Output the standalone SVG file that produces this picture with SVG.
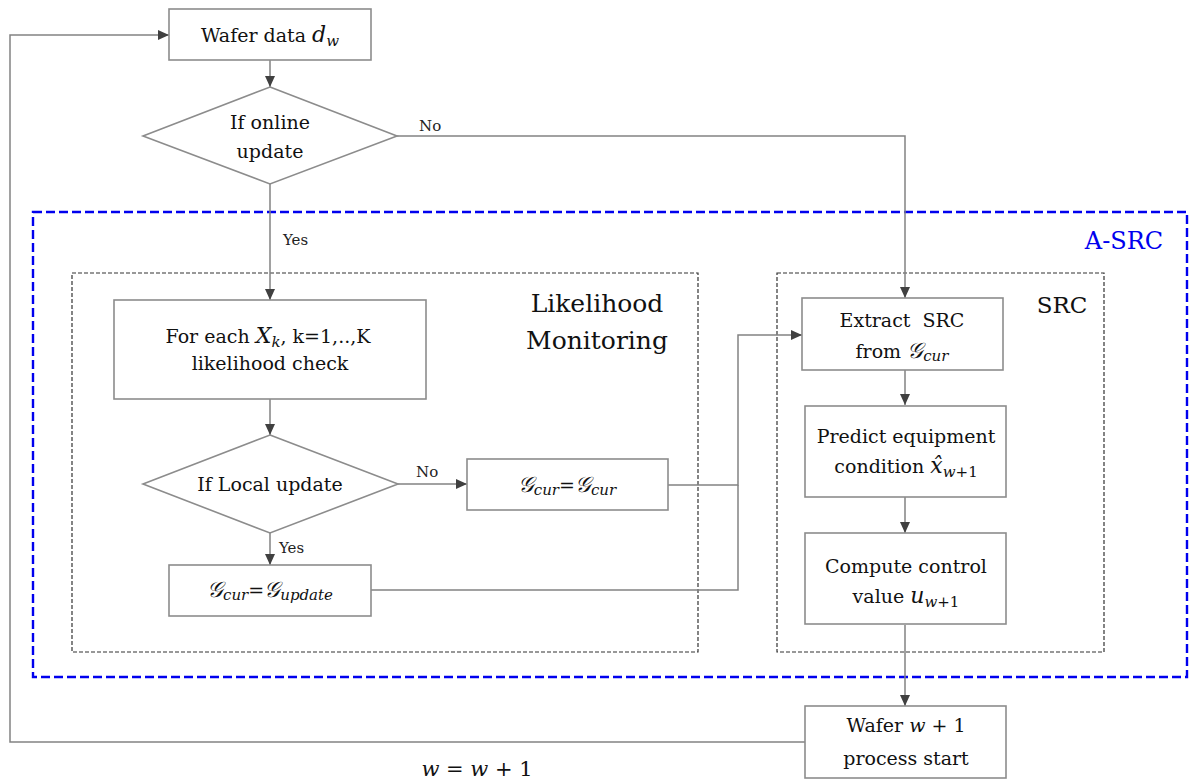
<svg xmlns="http://www.w3.org/2000/svg" width="1192" height="780" viewBox="0 0 1192 780">
<style>
.box{fill:#fff;stroke:#8c8c8c;stroke-width:1.6}
.grp{fill:none;stroke:#333;stroke-width:1.2;stroke-dasharray:4 2}
.asrc{fill:none;stroke:#0000ee;stroke-width:2.4;stroke-dasharray:9 4}
.ln{fill:none;stroke:#828282;stroke-width:1.5}
.t{font-family:"DejaVu Serif","Liberation Serif",serif;font-size:19px;fill:#111}
.m{font-style:italic;font-size:22px}
.sub{font-style:italic;font-size:15px}
.up{font-style:normal}
.lbl{font-family:"DejaVu Serif","Liberation Serif",serif;font-size:15px;fill:#222}
.big{font-family:"DejaVu Serif","Liberation Serif",serif;font-size:25px;fill:#111}
</style>
<defs>
<marker id="arr" markerUnits="userSpaceOnUse" markerWidth="12" markerHeight="12" refX="11" refY="6" orient="auto">
<path d="M0,1 L11,6 L0,11 z" fill="#404040"/>
</marker>
</defs>
<rect width="1192" height="780" fill="#fff"/>

<g id="group-asrc">
<rect class="asrc" x="33" y="212" width="1154" height="465"/>
<text x="1124" y="249" text-anchor="middle" style="font-family:'DejaVu Serif','Liberation Serif',serif;font-size:24px;fill:#0000ee">A-SRC</text>
</g>
<g id="group-likelihood">
<rect class="grp" x="72" y="273" width="626" height="379"/>
<text class="big" x="597" y="312" text-anchor="middle">Likelihood</text>
<text class="big" x="597" y="349" text-anchor="middle">Monitoring</text>
</g>
<g id="group-src">
<rect class="grp" x="777" y="273" width="327" height="379"/>
<text class="big" x="1062" y="313" text-anchor="middle" style="font-size:23px">SRC</text>
</g>

<g id="connectors">
<path class="ln" d="M270,60 V87" marker-end="url(#arr)"/>
<path class="ln" d="M397,136 H905 V298" marker-end="url(#arr)"/>
<text class="lbl" x="419" y="131">No</text>
<path class="ln" d="M270,184 V300" marker-end="url(#arr)"/>
<text class="lbl" x="283" y="245">Yes</text>
<path class="ln" d="M270,399 V435" marker-end="url(#arr)"/>
<path class="ln" d="M398,484 H467" marker-end="url(#arr)"/>
<text class="lbl" x="416" y="477">No</text>
<path class="ln" d="M270,533 V565" marker-end="url(#arr)"/>
<text class="lbl" x="279" y="553">Yes</text>
<path class="ln" d="M668,485 H738 V335 H802" marker-end="url(#arr)"/>
<path class="ln" d="M371,590 H738 V485"/>
<path class="ln" d="M905,370 V405" marker-end="url(#arr)"/>
<path class="ln" d="M905,497 V533" marker-end="url(#arr)"/>
<path class="ln" d="M905,625 V706" marker-end="url(#arr)"/>
<path class="ln" d="M805,742 H10 V35 H169" marker-end="url(#arr)"/>
<text class="t" x="477" y="776" text-anchor="middle" style="font-size:21px"><tspan font-style="italic">w</tspan> = <tspan font-style="italic">w</tspan> + 1</text>
</g>

<g id="n-wafer-data">
<rect class="box" x="169" y="9" width="202" height="51"/>
<text class="t" x="270" y="42" text-anchor="middle">Wafer data <tspan class="m">d</tspan><tspan class="sub" dy="4">w</tspan></text>
</g>
<g id="n-online">
<path class="box" d="M270,87 L397,136 L270,184 L143,136 Z"/>
<text class="t" x="270" y="129" text-anchor="middle">If online</text>
<text class="t" x="270" y="158" text-anchor="middle">update</text>
</g>
<g id="n-foreach">
<rect class="box" x="114" y="300" width="312" height="99"/>
<text class="t" x="268" y="343" text-anchor="middle">For each <tspan class="m">X</tspan><tspan class="sub" dy="4">k</tspan><tspan dy="-4">, k=1,..,K</tspan></text>
<text class="t" x="270" y="370" text-anchor="middle">likelihood check</text>
</g>
<g id="n-local">
<path class="box" d="M270,435 L398,484 L270,533 L143,484 Z"/>
<text class="t" x="270" y="491" text-anchor="middle">If Local update</text>
</g>
<g id="n-gcur-keep">
<rect class="box" x="467" y="459" width="201" height="51"/>
<text class="t" x="567" y="492" text-anchor="middle"><tspan class="m">𝒢</tspan><tspan class="sub" dy="3">cur</tspan><tspan dy="-3">=</tspan><tspan class="m">𝒢</tspan><tspan class="sub" dy="3">cur</tspan></text>
</g>
<g id="n-gcur-update">
<rect class="box" x="169" y="565" width="202" height="51"/>
<text class="t" x="270" y="597" text-anchor="middle"><tspan class="m">𝒢</tspan><tspan class="sub" dy="3">cur</tspan><tspan dy="-3">=</tspan><tspan class="m">𝒢</tspan><tspan class="sub" dy="3">update</tspan></text>
</g>
<g id="n-extract">
<rect class="box" x="802" y="298" width="201" height="72"/>
<text class="t" x="902" y="327" text-anchor="middle" xml:space="preserve">Extract  SRC</text>
<text class="t" x="902" y="358" text-anchor="middle">from <tspan class="m">𝒢</tspan><tspan class="sub" dy="3">cur</tspan></text>
</g>
<g id="n-predict">
<rect class="box" x="805" y="406" width="201" height="91"/>
<text class="t" x="906" y="443" text-anchor="middle">Predict equipment</text>
<text class="t" x="906" y="473" text-anchor="middle">condition <tspan class="m">x̂</tspan><tspan class="sub" dy="4">w<tspan class="up">+1</tspan></tspan></text>
</g>
<g id="n-compute">
<rect class="box" x="805" y="533" width="201" height="91"/>
<text class="t" x="906" y="573" text-anchor="middle">Compute control</text>
<text class="t" x="906" y="603" text-anchor="middle">value <tspan class="m">u</tspan><tspan class="sub" dy="4">w<tspan class="up">+1</tspan></tspan></text>
</g>
<g id="n-wafer-next">
<rect class="box" x="805" y="706" width="201" height="72"/>
<text class="t" x="906" y="732" text-anchor="middle">Wafer <tspan font-style="italic">w</tspan> + 1</text>
<text class="t" x="906" y="765" text-anchor="middle">process start</text>
</g>
</svg>
